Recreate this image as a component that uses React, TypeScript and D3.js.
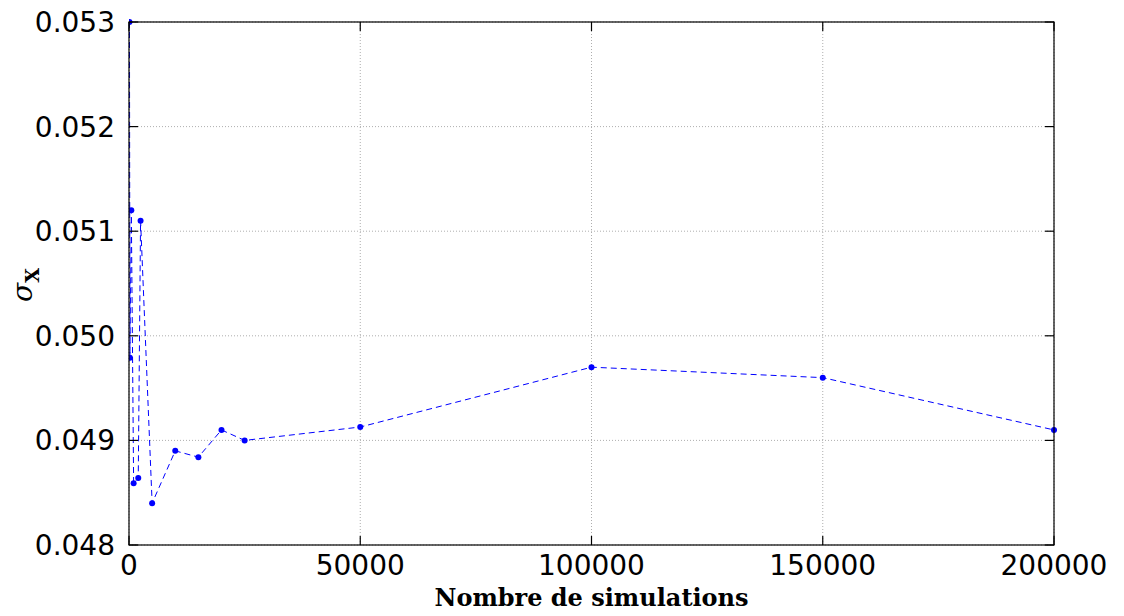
import React from 'react';
import * as d3 from 'd3';

// number of simulations vs estimated sigma
const simulations = [100, 200, 500, 1000, 2000, 2500, 5000, 10000, 15000, 20000, 25000, 50000, 100000, 150000, 200000];
const sigmaValues = [0.0530, 0.04979, 0.05120, 0.04859, 0.04864, 0.05110, 0.04840, 0.04890, 0.04884, 0.04910, 0.04900, 0.049128, 0.04970, 0.04960, 0.04910];
const xTicks = [0, 50000, 100000, 150000, 200000];
const yTicks = [0.048, 0.049, 0.05, 0.051, 0.052, 0.053];

const W = 1124;
const H = 616;
const margin = { left: 129, right: 70, top: 22, bottom: 71 };

const App = () => {
  const x = d3.scaleLinear().domain([0, 200000]).range([margin.left, W - margin.right]);
  const y = d3.scaleLinear().domain([0.048, 0.053]).range([H - margin.bottom, margin.top]);

  const data = simulations.map((s, i) => ({ s, v: sigmaValues[i] }));
  const line = d3.line<{ s: number; v: number }>()
    .x(d => x(d.s))
    .y(d => y(d.v));

  const x0 = margin.left;
  const x1 = W - margin.right;
  const y0 = H - margin.bottom;
  const y1 = margin.top;
  const tick = 9;
  const font = '"DejaVu Sans", sans-serif';

  return (
    <svg width={W} height={H} style={{ position: 'absolute', left: 0, top: 0, background: '#fff' }}>
      <defs>
        <clipPath id="plot">
          <rect x={x0} y={y1 - 4} width={x1 - x0 + 4} height={y0 - y1 + 4} />
        </clipPath>
      </defs>
      {/* grid */}
      {yTicks.map(t => (
        <line key={'gy' + t} x1={x0} x2={x1} y1={y(t)} y2={y(t)} stroke="#999" strokeWidth={0.8} strokeDasharray="1,2" />
      ))}
      {xTicks.map(t => (
        <line key={'gx' + t} x1={x(t)} x2={x(t)} y1={y0} y2={y1} stroke="#999" strokeWidth={0.8} strokeDasharray="1,2" />
      ))}
      {/* series */}
      <g clipPath="url(#plot)">
        <path d={line(data) || ''} fill="none" stroke="#0000ff" strokeWidth={1} strokeDasharray="6,4" />
        {data.map((d, i) => (
          <circle key={i} cx={x(d.s)} cy={y(d.v)} r={3} fill="#0000ff" />
        ))}
      </g>
      {/* frame */}
      <rect x={x0} y={y1} width={x1 - x0} height={y0 - y1} fill="none" stroke="#000" strokeWidth={1.2} />
      {/* ticks */}
      {yTicks.map(t => (
        <g key={'ty' + t}>
          <line x1={x0} x2={x0 + tick} y1={y(t)} y2={y(t)} stroke="#000" strokeWidth={1.2} />
          <line x1={x1} x2={x1 - tick} y1={y(t)} y2={y(t)} stroke="#000" strokeWidth={1.2} />
          <text x={x0 - 14} y={y(t)} dy="0.36em" textAnchor="end" fontSize={28} fontFamily={font}>
            {d3.format('.3f')(t)}
          </text>
        </g>
      ))}
      {xTicks.map(t => (
        <g key={'tx' + t}>
          <line x1={x(t)} x2={x(t)} y1={y0} y2={y0 - tick} stroke="#000" strokeWidth={1.2} />
          <line x1={x(t)} x2={x(t)} y1={y1} y2={y1 + tick} stroke="#000" strokeWidth={1.2} />
          <text x={x(t)} y={y0 + 30} textAnchor="middle" fontSize={28} fontFamily={font}>
            {t}
          </text>
        </g>
      ))}
      {/* axis labels */}
      <text x={(x0 + x1) / 2} y={H - 10} textAnchor="middle" fontSize={24} fontWeight="bold" fontFamily='"DejaVu Serif", "Liberation Serif", serif'>
        Nombre de simulations
      </text>
      <text transform={`translate(32, 285) rotate(-90)`} textAnchor="middle" fontFamily='"DejaVu Serif", serif'>
        <tspan fontSize={28} fontStyle="italic">σ</tspan>
        <tspan fontSize={19} fontWeight="bold" dy={7}>X</tspan>
      </text>
    </svg>
  );
};

export default App;
